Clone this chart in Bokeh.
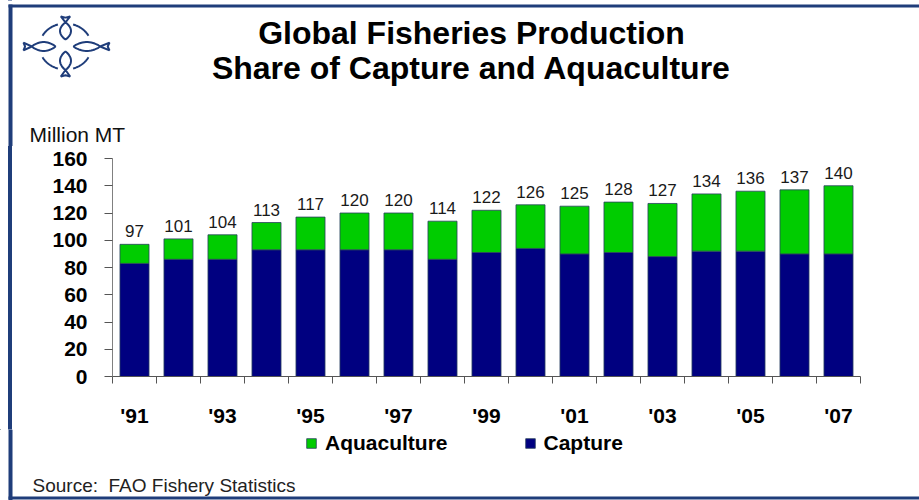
import numpy as np
from bokeh.plotting import figure
from bokeh.layouts import column, row
from bokeh.models import (ColumnDataSource, Range1d, FixedTicker, LabelSet,
                          Legend, LegendItem)
from bokeh.core.properties import value
from bokeh.embed import file_html
from bokeh.resources import INLINE

# ---------------- data ----------------
years = list(range(1991, 2008))
capture = [83, 86, 86, 93, 93, 93, 93, 86, 91, 94, 90, 91, 88, 92, 92, 90, 90]
total = [97, 101, 104, 113, 117, 120, 120, 114, 122, 126, 125, 128, 127, 134, 136, 137, 140]
aquaculture = [t - c for t, c in zip(total, capture)]
tick_years = [1991, 1993, 1995, 1997, 1999, 2001, 2003, 2005, 2007]
tick_labels = ["'91", "'93", "'95", "'97", "'99", "'01", "'03", "'05", "'07"]
y_ticks = [0, 20, 40, 60, 80, 100, 120, 140, 160]

title_lines = ["Global Fisheries Production", "Share of Capture and Aquaculture"]
unit_text = "Million MT"
source_text = "Source:\u00a0 FAO Fishery Statistics"

# ---------------- style ----------------
NAVY = "#000080"
GREEN = "#00CC00"
FRAME_BLUE = "#1f3d7a"
FONT = "Liberation Sans"
LEFT_LINE_BG = ("linear-gradient(to right, #ffffff 0px, #ffffff 8px, #1f3d7a 8px, "
                "#1f3d7a 12px, #ffffff 12px, #ffffff 100%)")

W = 919
H_HEAD, H_MAIN, H_FOOT = 146, 283, 71
FOOT_TOP = H_HEAD + H_MAIN


def pixel_fig(w, h):
    f = figure(width=w, height=h, x_range=Range1d(0, w), y_range=Range1d(h, 0),
               output_backend="svg", toolbar_location=None, min_border=0,
               x_axis_type=None, y_axis_type=None, title=None)
    f.outline_line_color = None
    f.background_fill_color = "white"
    f.border_fill_color = "white"
    return f


# ---------------- header: frame lines, logo, titles ----------------
head = pixel_fig(W, H_HEAD)
head.quad(left=[8, 8], right=[W, 12], top=[4, 4], bottom=[7, H_HEAD],
          fill_color=FRAME_BLUE, line_color=None)


def fish(hx, hy, tx, ty, w):
    dx, dy = tx - hx, ty - hy
    L = float(np.hypot(dx, dy))
    ux, uy = dx / L, dy / L
    nx, ny = -uy, ux
    jt = 0.74
    up, dn = [], []
    for s in np.linspace(0, 1, 16):
        off = w * np.sin(np.pi * s) ** 0.8
        a = s * jt * L
        up.append((hx + ux * a + nx * off, hy + uy * a + ny * off))
        dn.append((hx + ux * a - nx * off, hy + uy * a - ny * off))
    tipu = (hx + ux * L + nx * w * 0.85, hy + uy * L + ny * w * 0.85)
    notch = (hx + ux * L * 0.95, hy + uy * L * 0.95)
    tipd = (hx + ux * L - nx * w * 0.85, hy + uy * L - ny * w * 0.85)
    pts = up + [tipu, notch, tipd] + dn[::-1]
    return [q[0] for q in pts], [q[1] for q in pts]


def arc(cx, cy, rx, ry, a0, a1):
    th = np.radians(np.linspace(a0, a1, 24))
    return list(cx + rx * np.cos(th)), list(cy - ry * np.sin(th))


LCX, LCY = 65, 46
fishes = [fish(LCX, LCY - 7, LCX, LCY - 30, 5.5),
          fish(LCX, LCY + 5, LCX, LCY + 30, 5.5),
          fish(LCX - 10, LCY, LCX - 42, LCY, 4.5),
          fish(LCX + 8, LCY, LCX + 44, LCY, 4.5)]
head.patches(xs=[f[0] for f in fishes], ys=[f[1] for f in fishes],
             fill_color="white", line_color=FRAME_BLUE, line_width=2)
arcs = [arc(LCX, LCY, 26, 23, a0, a1) for a0, a1 in [(28, 73), (107, 152), (208, 253), (287, 332)]]
head.multi_line(xs=[a[0] for a in arcs], ys=[a[1] for a in arcs],
                line_color=FRAME_BLUE, line_width=2)

head.text(x=[471, 471], y=[32, 67], text=title_lines, text_font=value(FONT),
          text_font_size="32px", text_font_style="bold", text_align="center",
          text_baseline="middle", text_color="black")
head.text(x=[29], y=[134], text=[unit_text], text_font=value(FONT),
          text_font_size="21px", text_align="left", text_baseline="middle",
          text_color="#111111")

# ---------------- main chart ----------------
p = figure(width=W, height=H_MAIN, x_range=Range1d(1990.5, 2007.5), y_range=Range1d(0, 160),
           output_backend="svg", toolbar_location=None, title=None,
           min_border_left=112, min_border_right=59, min_border_top=12, min_border_bottom=52)
p.xgrid.visible = False
p.ygrid.visible = False
p.outline_line_color = None
p.border_fill_alpha = 0
p.styles = {"background": LEFT_LINE_BG}

src = ColumnDataSource(dict(year=years, capture=capture, aquaculture=aquaculture,
                            total=total, label=[str(t) for t in total]))
rs = p.vbar_stack(["capture", "aquaculture"], x="year", width=0.66, source=src,
                  fill_color=[NAVY, GREEN], line_color="#2a4060", line_width=0.8)

p.add_layout(LabelSet(x="year", y="total", text="label", source=src, text_align="center",
                      text_baseline="alphabetic", y_offset=7, text_font=value(FONT),
                      text_font_size="17px", text_color="#1a1a1a"))

xa = p.xaxis[0]
xa.ticker = FixedTicker(ticks=tick_years, minor_ticks=[y - 0.5 for y in years] + [years[-1] + 0.5])
xa.major_label_overrides = dict(zip(tick_years, tick_labels))
xa.major_tick_out = 0
xa.major_tick_in = 0
xa.minor_tick_out = 7
xa.minor_tick_in = 0
xa.minor_tick_line_color = "#555555"
xa.axis_line_color = "#555555"
xa.major_label_text_font = FONT
xa.major_label_text_font_size = "21px"
xa.major_label_text_font_style = "bold"
xa.major_label_text_color = "black"
xa.major_label_standoff = 20

ya = p.yaxis[0]
ya.ticker = FixedTicker(ticks=y_ticks)
ya.minor_tick_line_color = None
ya.major_tick_out = 8
ya.major_tick_in = 0
ya.major_tick_line_color = "#555555"
ya.axis_line_color = "#808080"
ya.major_label_text_font = FONT
ya.major_label_text_font_size = "21px"
ya.major_label_text_font_style = "bold"
ya.major_label_text_color = "black"
ya.major_label_standoff = 17

# ---------------- footer: legend, source, frame lines ----------------
foot = pixel_fig(W, H_FOOT)
foot.quad(left=[8, 8], right=[12, W], top=[0, 496 - FOOT_TOP], bottom=[H_FOOT, 499 - FOOT_TOP],
          fill_color=FRAME_BLUE, line_color=None)
# legend-only renderers, placed outside the visible range
r_aq = foot.vbar(x=[-50], top=[-50], bottom=[-60], width=1, fill_color=GREEN,
                 line_color="#2a4060", line_width=0.8)
r_cp = foot.vbar(x=[-50], top=[-50], bottom=[-60], width=1, fill_color=NAVY,
                 line_color="#2a4060", line_width=0.8)
leg = Legend(items=[LegendItem(label="Aquaculture", renderers=[r_aq]),
                    LegendItem(label="Capture", renderers=[r_cp])],
             orientation="horizontal", location=(305, H_FOOT - (443 - FOOT_TOP) - 12),
             glyph_width=12, glyph_height=12, label_standoff=8, spacing=76,
             padding=0, margin=0, border_line_color=None, background_fill_alpha=0,
             label_text_font=FONT, label_text_font_size="21px", label_text_font_style="bold",
             label_text_color="black")
foot.add_layout(leg)
foot.text(x=[32], y=[485 - FOOT_TOP], text=[source_text], text_font=value(FONT),
          text_font_size="19px", text_align="left", text_baseline="middle",
          text_color="#222222")

layout = column(head, row(p, styles={"background": LEFT_LINE_BG}), foot,
                styles={"background": LEFT_LINE_BG})
open("out.html", "w").write(file_html(layout, INLINE))
